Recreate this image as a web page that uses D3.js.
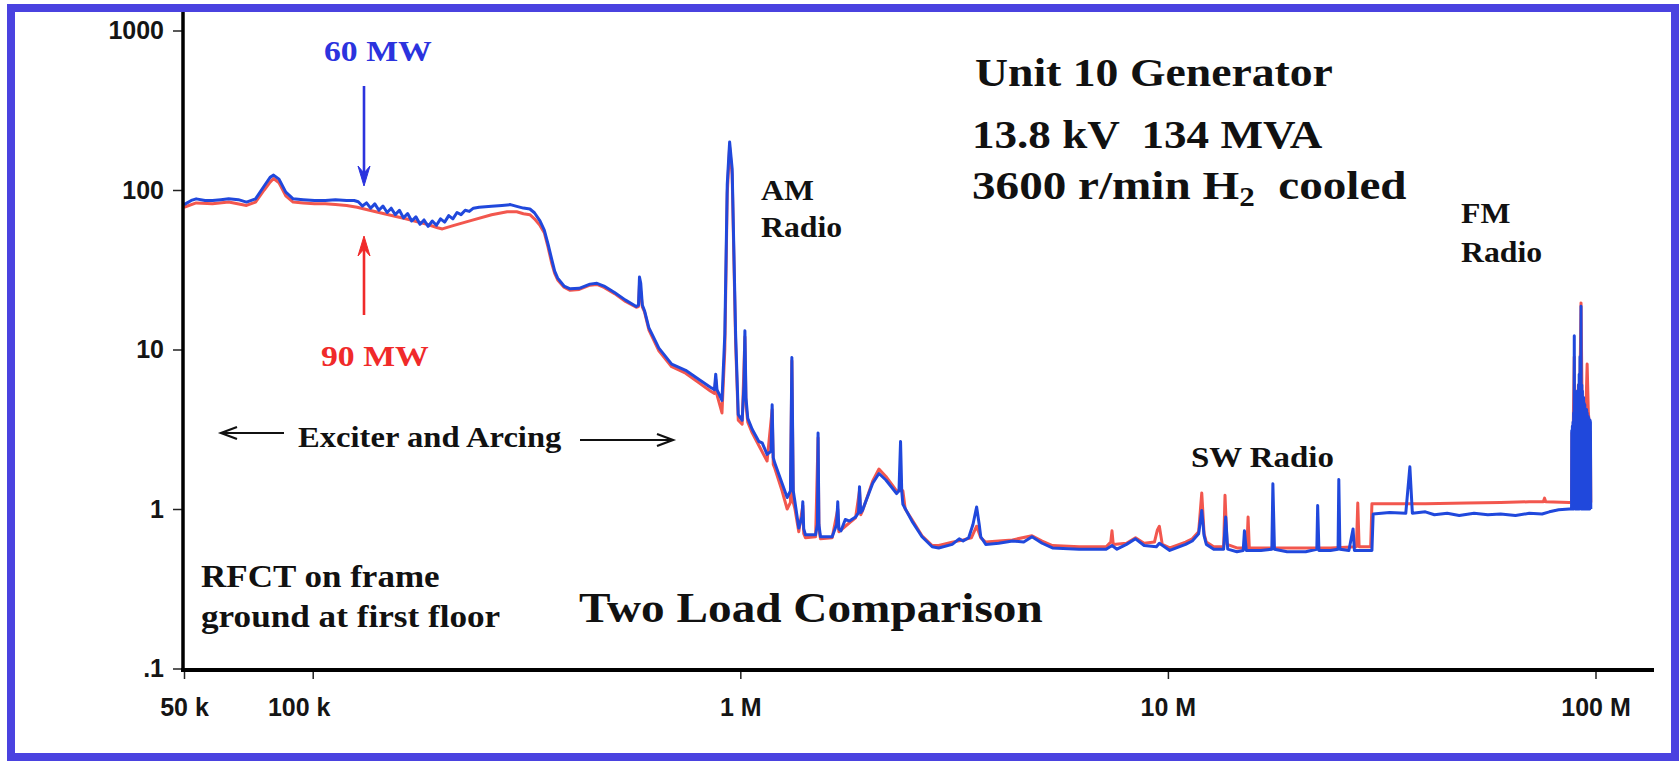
<!DOCTYPE html>
<html><head><meta charset="utf-8">
<script src="https://cdn.jsdelivr.net/npm/d3@7"></script>
<style>
html,body{margin:0;padding:0;background:#fff;}
svg{display:block;}
.tick text{font-family:"Liberation Sans",Arial,sans-serif;font-weight:bold;font-size:25px;fill:#151515;}
.ann{font-family:"Liberation Serif","Times New Roman",serif;font-weight:bold;white-space:pre;}
</style></head><body>
<svg id="chart" width="1680" height="762"></svg>
<script>
// ---- tick values / labels (frequency in kHz) ----
const xTickValues = [50, 100, 1000, 10000, 100000];
const xTickLabels = ["50 k", "100 k", "1 M", "10 M", "100 M"];
const yTickValues = [0.1, 1, 10, 100, 1000];
const yTickLabels = [".1", "1", "10", "100", "1000"];

// ---- 60 MW (blue) spectrum: [frequency kHz, amplitude] ----
const load60 = [
[50,81],[52,86],[53.4,88],[56,86],[58.3,86],[61,87],[63.6,88],[67,87],[70,84],[73.5,88],[77,106],[79.5,120],[81,124],[83.4,117],[86.5,97],[90,88],[95,87],[101,86],[107,86],[113,87],[120,86],[125,86],
[127.8,84.4],[130.7,79.4],[133.6,83.1],[136.6,76.9],[139.7,81.8],[142.8,74.6],[146,79.4],[149.3,72.3],[152.6,76.9],[156,70.1],[159.5,74.6],[163,66.9],[166.7,71.2],[170.4,63.9],[174.3,67.9],[178.2,61.0],[182.1,64.9],[186.2,59.2],[190.4,63.9],[194.7,60.1],[199,65.9],[203.5,62.9],[208,69.1],[212.7,65.9],[217.5,72.3],[222.3,70.1],[227.3,74.6],[232.4,73.4],[237.6,76.9],
[245,78],[262,79],[277,80],[290,81],[300,79],[311,77],[322,76],[330,72],[340,64],[348,56],[355,46],[362,37],[368,31],[374,28],[387,25],[400,24],[420,24.2],[445,25.7],[462,26],[480,25],[508,22.8],[539,20.4],[571,18.6],[578,19],[581,28.5],[585,26],[590,19],[597,17.5],[611,13.7],[645,10.2],[691,8.1],[745,7.4],[799,6.5],[851,5.8],[870,5.6],[876,7.0],[882,5.6],[906,4.8],[920,12.5],[932,108],[944,200],[957,136],[975,12.5],[989,3.9],[1010,3.6],[1020,6],[1025,13.1],[1031,5],[1041,3.7],[1066,3.16],[1105,2.65],[1125,2.6],[1155,2.2],[1180,2.3],[1187,4.5],[1194,2.1],[1204,1.94],[1252,1.45],[1287,1.18],[1310,1.3],[1320,8.9],[1330,1.3],[1342,1.11],[1370,0.76],[1395,0.9],[1400,1.11],[1407,0.75],[1420,0.69],[1500,0.69],[1515,0.8],[1520,3.0],[1527,0.8],[1540,0.67],[1640,0.67],[1680,0.8],[1690,1.11],[1700,0.75],[1720,0.73],[1760,0.86],[1800,0.84],[1860,0.89],[1890,0.95],[1900,1.38],[1912,0.95],[1930,0.98],[2040,1.45],[2110,1.67],[2190,1.52],[2320,1.25],[2350,1.3],[2370,2.65],[2385,1.3],[2400,1.07],[2520,0.84],[2660,0.67],[2810,0.58],[2910,0.57],[3130,0.60],[3250,0.65],[3320,0.63],[3420,0.66],[3500,0.80],[3570,1.03],[3620,0.80],[3650,0.67],[3750,0.60],[4020,0.61],[4330,0.63],[4600,0.62],[4810,0.67],[5080,0.61],[5370,0.57],[6200,0.56],[7170,0.56],[7400,0.59],[7600,0.56],[8000,0.60],[8400,0.65],[8800,0.59],[9400,0.58],[9550,0.61],[10100,0.55],[11000,0.6],[11400,0.63],[11800,0.70],[12000,0.98],[12150,0.68],[12300,0.60],[12800,0.56],[13500,0.56],[13650,0.89],[13800,0.56],[14500,0.54],[15000,0.55],[15100,0.73],[15250,0.55],[16500,0.55],[17500,0.56],[17600,1.44],[17750,0.56],[19000,0.54],[21000,0.54],[22300,0.56],[22400,1.05],[22550,0.55],[24000,0.55],[25000,0.56],[25100,1.53],[25250,0.56],[26500,0.55],[27100,0.75],[27300,0.55],[30000,0.55],[30200,0.93],[33000,0.95],[36000,0.94],[36800,1.84],[37300,0.94],[40000,0.96],[42000,0.92],[45000,0.94],[48000,0.91],[52000,0.94],[56000,0.92],[60000,0.93],[65000,0.91],[70000,0.94],[75000,0.93],[78000,0.96],[82000,0.99],[86800,1.0],[87900,1.0],
[88000,3.1],[88150,1.0],[88300,3.3],[88450,1.0],[88600,3.5],[88750,1.0],[88900,4.0],[89050,1.0],[89200,12.2],[89350,1.1],[89500,4.5],[89650,1.0],[89800,5.0],[89950,1.0],[90100,4.8],[90250,1.0],[90400,5.2],[90550,1.0],[90700,5.5],[90850,1.0],[91000,5.0],[91150,1.0],[91300,6.0],[91450,1.0],[91600,7.0],[91750,1.0],[92000,9.0],[92200,1.1],[92500,18.7],[92700,1.0],[92900,6.0],[93050,1.0],[93200,5.5],[93350,1.0],[93500,5.0],[93650,1.0],[93800,5.0],[93950,1.0],[94100,4.6],[94250,1.0],[94400,4.5],[94550,1.0],[94700,4.2],[94850,1.0],[95000,4.0],[95150,1.0],[95300,4.2],[95450,1.0],[95600,4.0],[95750,1.0],[95900,3.8],[96050,1.0],[96200,3.8],[96350,1.0],[96500,3.7],[96650,1.0],[96800,3.6],[96950,1.0],[97100,3.6],[97300,3.5],[97500,1.0]
];

// ---- 90 MW (red) spectrum: [frequency kHz, amplitude] ----
const load90 = [
[50,78],[53.4,83],[58.3,82],[63.6,84],[70,80],[73.5,84],[77,100],[79.5,112],[81,118],[83.4,111],[86.5,92],[90,84],[95,83],[101,82],[107,82],[113,81],[120,80],[127,78],[135,75],[147,71],[165,66],[185,61],[196,58],[201,57],[214,60],[233,64],[262,70],[285,73],[300,73],[311,71],[322,70],[330,66],[340,60],[348,54],[355,44],[362,35],[368,30],[374,27.3],[387,24.6],[400,23.5],[420,23.8],[445,25.3],[462,25.6],[480,24.5],[508,22.4],[539,20],[571,18.4],[578,18.6],[581,25.4],[585,23],[590,18.5],[597,17.2],[611,13.3],[645,9.8],[691,7.8],[745,7.1],[799,6.2],[851,5.5],[870,5.3],[876,6.5],[882,5.2],[906,4.0],[920,10],[932,95],[944,185],[957,125],[975,11],[989,3.6],[1010,3.4],[1025,12],[1031,4.5],[1041,3.5],[1066,3.0],[1105,2.5],[1155,2.0],[1187,4.2],[1194,1.9],[1204,1.8],[1252,1.3],[1287,1.0],[1310,1.1],[1320,8.5],[1330,1.1],[1342,1.0],[1370,0.72],[1400,1.05],[1407,0.7],[1420,0.66],[1500,0.67],[1520,2.8],[1527,0.75],[1540,0.65],[1640,0.66],[1690,1.0],[1700,0.72],[1800,0.82],[1860,0.88],[1900,1.3],[1912,0.92],[1930,0.97],[2040,1.5],[2110,1.78],[2190,1.6],[2320,1.3],[2400,1.3],[2430,1.0],[2520,0.86],[2660,0.68],[2810,0.59],[2910,0.59],[3130,0.62],[3320,0.64],[3470,0.66],[3570,0.78],[3650,0.66],[3750,0.62],[4020,0.63],[4330,0.64],[4810,0.68],[5080,0.63],[5370,0.59],[6200,0.58],[7170,0.58],[7350,0.62],[7400,0.73],[7450,0.6],[8000,0.61],[8400,0.66],[8800,0.61],[9300,0.62],[9450,0.74],[9550,0.78],[9700,0.6],[10100,0.57],[11000,0.62],[11400,0.65],[11800,0.72],[12000,1.26],[12150,0.7],[12300,0.62],[12800,0.58],[13500,0.58],[13600,1.22],[13750,0.6],[14500,0.57],[15300,0.57],[15400,0.89],[15500,0.57],[17000,0.57],[20000,0.57],[24000,0.57],[27600,0.58],[27800,1.09],[28000,0.58],[29800,0.58],[30000,1.08],[40000,1.08],[50000,1.09],[60000,1.1],[70000,1.11],[75500,1.11],[76000,1.17],[76500,1.11],[86800,1.1],[87900,1.1],
[88100,3.0],[88400,1.2],[88800,4],[89200,9],[89500,2],[90000,5],[90600,3],[91200,6],[91800,4],[92500,19.6],[93000,5.0],[93500,3.5],[94200,4.5],[94800,3.5],[95600,8.1],[96200,4.1],[96800,3.2],[97300,2.8],[97500,1.1]
];

const svg = d3.select("#chart");
svg.append("rect").attr("width",1680).attr("height",762).attr("fill","#fff");

const x = d3.scaleLog().domain([50, 100000]).range([184, 1595.5]);
const y = d3.scaleLog().domain([0.1, 1000]).range([668.5, 30.5]);

// frame
svg.append("rect").attr("x",11).attr("y",8).attr("width",1664).attr("height",749)
  .attr("fill","none").attr("stroke","#4a42e0").attr("stroke-width",8);

// curves
const line = d3.line().x(d => x(d[0])).y(d => y(d[1]));
svg.append("path").datum(load90).attr("d", line).attr("fill","none")
  .attr("stroke","#f2574e").attr("stroke-width",3).attr("stroke-linejoin","round");
svg.append("path").datum(load60).attr("d", line).attr("fill","none")
  .attr("stroke","#2048dc").attr("stroke-width",3).attr("stroke-linejoin","round");

// axes
const yAxis = d3.axisLeft(y).tickValues(yTickValues)
  .tickFormat((d,i) => yTickLabels[i]).tickSize(10).tickPadding(9).tickSizeOuter(0);
const gy = svg.append("g").attr("transform","translate(183,0)").call(yAxis);
gy.select(".domain").remove();
gy.selectAll(".tick line").attr("stroke","#222").attr("stroke-width",1.5);

const xAxis = d3.axisBottom(x).tickValues(xTickValues)
  .tickFormat((d,i) => xTickLabels[i]).tickSize(9).tickPadding(19).tickSizeOuter(0);
const gx = svg.append("g").attr("transform","translate(0,670)").call(xAxis);
gx.select(".domain").remove();
gx.selectAll(".tick line").attr("stroke","#222").attr("stroke-width",1.5);
gx.selectAll(".tick text").attr("dx", (d,i) => i === 1 ? -14 : 0);

svg.append("line").attr("x1",183).attr("x2",183).attr("y1",12).attr("y2",672)
  .attr("stroke","#000").attr("stroke-width",3.5);
svg.append("line").attr("x1",181).attr("x2",1654).attr("y1",670).attr("y2",670)
  .attr("stroke","#000").attr("stroke-width",4);

// annotations
function ann(tx, ty, str, size, sx, color) {
  return svg.append("text").attr("class","ann")
    .attr("transform", `translate(${tx},${ty}) scale(${sx},1)`)
    .attr("font-size", size).attr("fill", color || "#111").text(str);
}
ann(975, 86, "Unit 10 Generator", 41, 1.115);
ann(972, 148, "13.8 kV  134 MVA", 41, 1.1);
const t3 = svg.append("text").attr("class","ann")
  .attr("transform","translate(972,199) scale(1.15,1)").attr("font-size",41).attr("fill","#111");
t3.append("tspan").text("3600 r/min H");
t3.append("tspan").attr("font-size",27).attr("dy",7).text("2");
t3.append("tspan").attr("dy",-7).text("  cooled");

ann(761, 200, "AM", 29, 1.095);
ann(761, 237, "Radio", 29, 1.095);
ann(1461, 223, "FM", 29, 1.095);
ann(1461, 262, "Radio", 29, 1.095);
ann(1191, 467, "SW Radio", 29, 1.135);
ann(298, 447, "Exciter and Arcing", 29, 1.125);
ann(201, 587, "RFCT on frame", 31, 1.13);
ann(201, 627, "ground at first floor", 31, 1.135);
ann(579, 622, "Two Load Comparison", 42, 1.125);
ann(324, 61, "60 MW", 30, 1.125, "#2b33de");
ann(321, 366, "90 MW", 30, 1.125, "#f02a2a");

// load arrows
function vArrow(xp, y0, y1, color) {
  const dir = y1 > y0 ? 1 : -1;
  svg.append("line").attr("x1",xp).attr("x2",xp).attr("y1",y0).attr("y2",y1 - dir*10)
    .attr("stroke",color).attr("stroke-width",2.6);
  svg.append("path")
    .attr("d",`M${xp},${y1} L${xp-6},${y1-dir*20} L${xp},${y1-dir*13} L${xp+6},${y1-dir*20} Z`)
    .attr("fill",color).attr("stroke",color).attr("stroke-width",1);
}
vArrow(364, 86, 186, "#2b33de");
vArrow(364, 315, 236, "#f02a2a");

// exciter arrows
function hArrow(x0, x1, yp) {
  const dir = x1 > x0 ? 1 : -1;
  svg.append("line").attr("x1",x0).attr("x2",x1).attr("y1",yp).attr("y2",yp)
    .attr("stroke","#111").attr("stroke-width",2);
  svg.append("path").attr("d",`M${x1-dir*16},${yp-6} L${x1},${yp} L${x1-dir*16},${yp+6}`)
    .attr("fill","none").attr("stroke","#111").attr("stroke-width",2.2);
}
hArrow(284, 221, 433);
hArrow(580, 673, 440);
</script>
</body></html>
